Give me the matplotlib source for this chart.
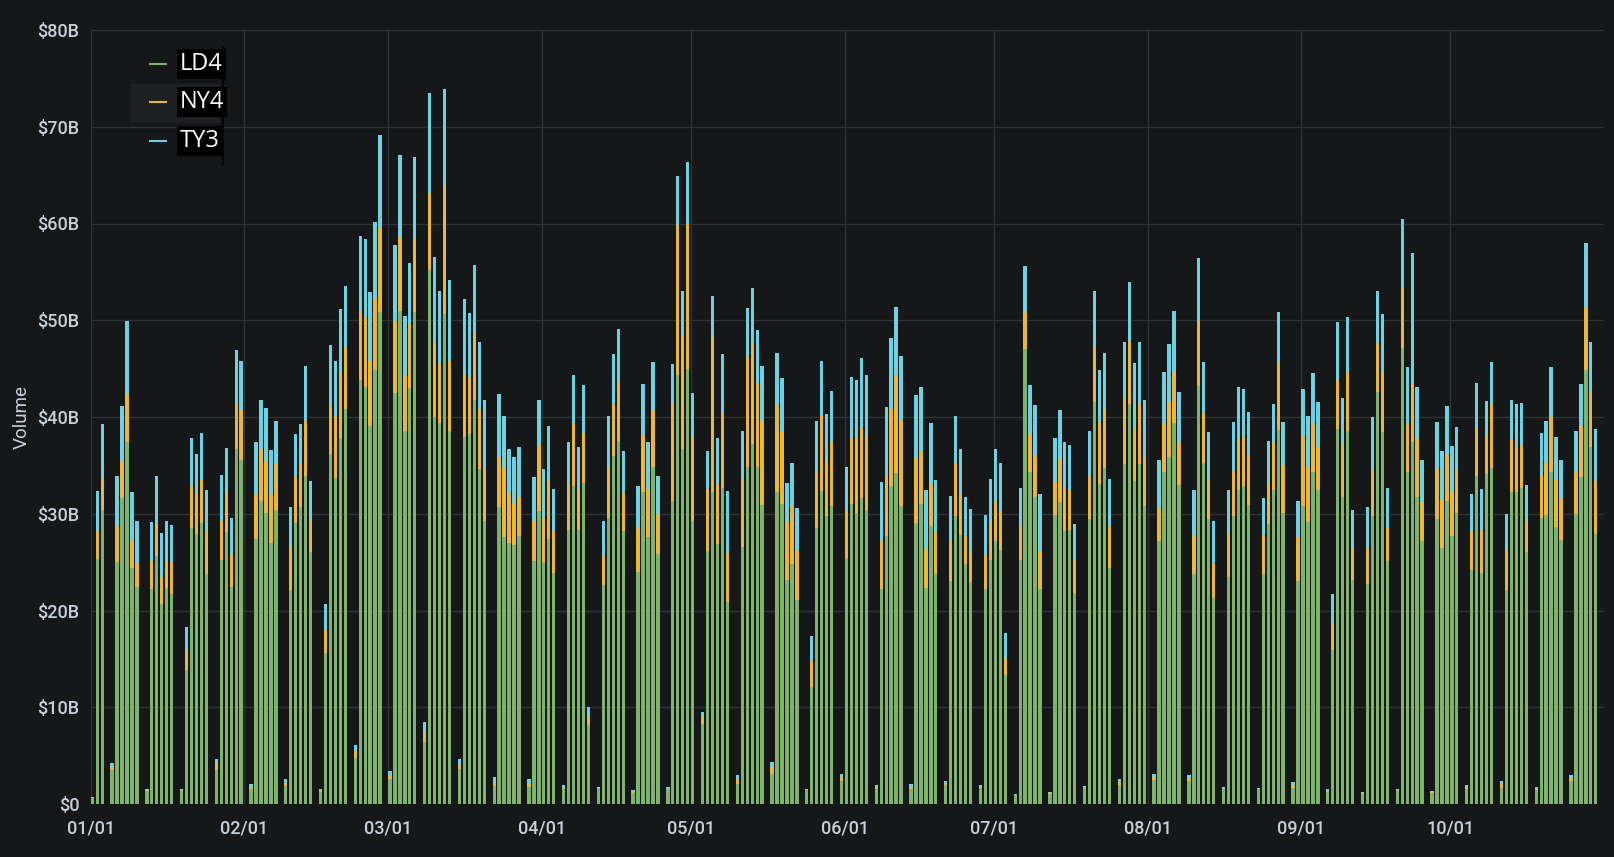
import numpy as np
import pandas as pd
import matplotlib
matplotlib.use('Agg')
import matplotlib.pyplot as plt
import matplotlib.dates as mdates
from matplotlib.ticker import FuncFormatter, MultipleLocator
from matplotlib.lines import Line2D
from matplotlib.patches import Rectangle

# daily volume in $B, 2020-01-01 .. 2020-10-31 (Saturdays are 0)
series = ['LD4', 'NY4', 'TY3']
colors = ['#7eb26d', '#eab839', '#6ed0e0']

ld4 = [
    # Jan
    0.6, 25.3, 30.4, 0, 3.5, 25.0, 31.6, 37.4, 24.4, 22.4, 0, 1.3, 22.2, 25.6, 20.7, 22.3,
    21.7, 0, 1.3, 13.8, 28.5, 27.9, 29.0, 23.8, 0, 3.5, 25.2, 28.1, 22.4, 36.7, 35.6,
    # Feb
    0, 1.6, 27.4, 31.3, 30.1, 27.0, 30.4, 0, 1.9, 22.1, 29.0, 30.7, 33.9, 26.0, 0, 1.2,
    15.6, 36.2, 33.7, 37.8, 40.8, 0, 4.8, 43.8, 43.1, 39.1, 44.9, 50.9, 0,
    # Mar
    2.6, 42.5, 51.0, 38.6, 43.0, 50.9, 0, 6.4, 55.2, 40.0, 39.4, 50.6, 38.6, 0, 3.6, 37.9,
    38.2, 41.8, 34.6, 29.2, 0, 1.9, 30.7, 27.6, 27.0, 26.8, 27.7, 0, 1.8, 25.1, 30.3,
    # Apr
    24.9, 27.4, 23.9, 0, 1.5, 28.3, 32.9, 28.3, 33.2, 8.2, 0, 1.5, 22.6, 29.6, 36.0, 37.5,
    28.2, 0, 1.1, 24.0, 32.2, 27.6, 34.8, 25.8, 0, 1.5, 31.3, 44.3, 36.7, 45.0,
    # May
    29.3, 0, 8.3, 26.1, 32.2, 26.9, 32.7, 20.9, 0, 2.1, 26.6, 34.8, 37.2, 34.8, 30.9, 0,
    3.1, 32.2, 31.0, 23.2, 24.8, 21.1, 0, 1.4, 12.1, 28.5, 32.3, 29.8, 30.8, 0, 2.4,
    # Jun
    25.4, 31.0, 30.1, 31.6, 30.4, 0, 1.6, 22.2, 27.7, 32.9, 34.2, 30.8, 0, 1.6, 29.0, 31.0,
    22.3, 28.7, 23.8, 0, 2.0, 23.0, 29.8, 27.8, 24.8, 22.9, 0, 1.7, 22.2, 25.2,
    # Jul
    27.2, 26.3, 13.3, 0, 0.9, 25.2, 47.0, 34.3, 31.7, 22.2, 0, 1.0, 29.9, 31.2, 28.2, 28.3,
    21.8, 0, 1.5, 29.5, 41.6, 33.1, 34.7, 24.4, 0, 2.0, 35.1, 41.3, 33.4, 35.1, 30.8,
    # Aug
    0, 2.5, 27.2, 34.3, 35.9, 39.4, 33.0, 0, 2.4, 23.8, 43.2, 35.2, 29.5, 21.3, 0, 1.5,
    23.5, 29.8, 32.5, 32.9, 30.9, 0, 1.5, 23.8, 28.9, 32.5, 38.7, 30.1, 0, 1.7, 23.0,
    # Sep
    30.8, 29.1, 34.3, 32.5, 0, 1.2, 15.9, 38.8, 31.7, 38.6, 23.2, 0, 1.0, 22.7, 29.8, 42.6,
    38.4, 25.1, 0, 1.3, 47.1, 34.3, 37.4, 31.7, 27.2, 0, 1.1, 29.5, 26.5, 31.3,
    # Oct
    27.7, 30.1, 0, 1.6, 24.2, 33.9, 23.9, 34.1, 34.7, 0, 1.7, 22.1, 32.2, 32.2, 32.7, 26.0,
    0, 1.4, 29.6, 29.9, 34.3, 28.6, 27.3, 0, 2.4, 30.0, 33.8, 44.9, 36.9, 27.9, 0,
]

ny4 = [
    # Jan
    0.0, 2.9, 3.3, 0, 0.3, 3.7, 3.9, 5.0, 2.8, 2.5, 0, 0.1, 2.9, 3.3, 2.8, 2.8,
    3.3, 0, 0.1, 2.1, 4.4, 4.1, 4.5, 4.4, 0, 0.7, 4.0, 4.1, 3.4, 4.7, 5.1,
    # Feb
    0, 0.2, 4.6, 5.4, 5.2, 5.0, 4.7, 0, 0.3, 4.6, 4.8, 4.4, 5.7, 3.4, 0, 0.2,
    2.4, 5.0, 6.3, 6.7, 6.4, 0, 0.7, 7.3, 7.2, 6.7, 7.3, 8.7, 0,
    # Mar
    0.4, 7.4, 7.6, 5.6, 6.7, 7.6, 0, 1.0, 8.0, 7.8, 6.1, 13.3, 7.2, 0, 0.4, 6.5,
    5.9, 6.9, 6.2, 5.5, 0, 0.3, 5.2, 7.1, 5.1, 4.2, 4.0, 0, 0.3, 4.1, 6.8,
    # Apr
    4.7, 6.0, 4.3, 0, 0.2, 4.8, 6.4, 4.2, 5.1, 0.8, 0, 0.1, 3.0, 5.2, 5.3, 6.1,
    3.9, 0, 0.1, 4.6, 5.9, 5.0, 5.9, 4.2, 0, 0.1, 10.1, 15.5, 11.7, 15.0,
    # May
    8.6, 0, 0.8, 6.5, 16.1, 6.2, 7.7, 5.0, 0, 0.5, 7.0, 11.4, 10.4, 8.7, 8.7, 0,
    0.7, 9.0, 7.4, 5.9, 6.0, 5.2, 0, 0.1, 2.7, 5.9, 7.8, 5.7, 6.6, 0, 0.4,
    # Jun
    4.9, 6.8, 7.8, 7.3, 7.7, 0, 0.2, 5.0, 6.2, 7.9, 10.1, 8.9, 0, 0.2, 6.8, 5.5,
    4.1, 4.4, 4.3, 0, 0.2, 4.2, 5.4, 4.2, 2.9, 3.1, 0, 0.1, 3.5, 3.9,
    # Jul
    4.0, 4.0, 1.8, 0, 0.0, 3.5, 3.9, 3.9, 4.3, 3.8, 0, 0.1, 3.4, 4.5, 4.6, 4.2,
    3.4, 0, 0.2, 4.4, 5.6, 6.4, 6.1, 4.3, 0, 0.3, 6.9, 6.6, 5.4, 6.2, 5.1,
    # Aug
    0, 0.3, 3.4, 5.0, 5.7, 5.3, 4.4, 0, 0.3, 3.9, 6.7, 5.2, 4.1, 3.6, 0, 0.1,
    4.5, 4.6, 5.1, 5.0, 5.1, 0, 0.1, 4.0, 4.3, 4.9, 6.9, 4.9, 0, 0.3, 4.6,
    # Sep
    7.2, 5.7, 5.0, 4.4, 0, 0.1, 2.8, 5.0, 5.5, 6.1, 3.3, 0, 0.1, 3.8, 4.7, 5.0,
    6.3, 3.4, 0, 0.1, 6.2, 5.0, 6.0, 6.1, 4.0, 0, 0.1, 5.2, 4.9, 4.9,
    # Oct
    4.5, 4.5, 0, 0.2, 4.0, 5.0, 4.4, 4.0, 6.6, 0, 0.4, 4.3, 5.5, 4.7, 4.4, 3.2,
    0, 0.2, 4.4, 5.4, 5.7, 4.9, 4.3, 0, 0.3, 4.3, 5.3, 6.5, 5.7, 5.5, 0,
]

ty3 = [
    # Jan
    0.1, 4.1, 5.6, 0, 0.4, 5.2, 5.6, 7.5, 5.0, 4.3, 0, 0.1, 4.0, 5.0, 4.5, 4.1,
    3.8, 0, 0.1, 2.4, 4.9, 4.2, 4.8, 4.3, 0, 0.5, 4.8, 4.6, 3.8, 5.5, 5.1,
    # Feb
    0, 0.3, 5.4, 5.1, 5.6, 4.6, 4.5, 0, 0.4, 4.0, 4.4, 4.2, 5.7, 4.0, 0, 0.2,
    2.7, 6.2, 5.8, 6.7, 6.3, 0, 0.6, 7.6, 8.1, 7.1, 8.0, 9.5, 0,
    # Mar
    0.4, 7.9, 8.5, 6.2, 6.2, 8.4, 0, 1.1, 10.3, 8.7, 7.5, 10.0, 8.4, 0, 0.6, 7.8,
    6.7, 7.0, 7.0, 7.1, 0, 0.6, 6.5, 5.4, 4.6, 4.9, 5.2, 0, 0.5, 4.6, 4.7,
    # Apr
    5.0, 5.7, 4.4, 0, 0.3, 4.3, 5.0, 4.4, 5.0, 1.0, 0, 0.2, 3.7, 5.3, 5.2, 5.5,
    4.4, 0, 0.2, 4.3, 5.3, 4.8, 5.0, 3.9, 0, 0.2, 4.1, 5.1, 4.6, 6.4,
    # May
    4.6, 0, 0.4, 3.9, 4.2, 4.7, 6.1, 6.4, 0, 0.4, 5.0, 5.1, 5.7, 5.5, 5.7, 0,
    0.5, 5.4, 5.6, 4.1, 4.4, 4.3, 0, 0.1, 2.6, 5.2, 5.7, 4.8, 5.3, 0, 0.3,
    # Jun
    4.5, 6.3, 5.9, 7.2, 6.2, 0, 0.2, 6.1, 7.1, 7.4, 7.1, 6.6, 0, 0.3, 6.5, 6.6,
    6.1, 6.3, 5.4, 0, 0.2, 4.6, 4.9, 4.7, 4.0, 4.5, 0, 0.2, 4.2, 4.5,
    # Jul
    5.5, 4.9, 2.6, 0, 0.1, 4.0, 4.7, 5.1, 5.2, 6.0, 0, 0.1, 4.5, 5.0, 4.6, 4.6,
    3.7, 0, 0.2, 4.7, 5.8, 5.4, 5.8, 4.9, 0, 0.3, 5.8, 6.1, 6.8, 6.5, 5.9,
    # Aug
    0, 0.3, 5.0, 5.4, 5.9, 6.3, 5.2, 0, 0.3, 4.8, 6.5, 5.3, 4.9, 4.4, 0, 0.2,
    4.5, 5.1, 5.5, 5.0, 4.5, 0, 0.1, 3.8, 4.3, 3.9, 5.3, 4.5, 0, 0.3, 3.7,
    # Sep
    4.9, 5.3, 5.2, 4.7, 0, 0.2, 3.0, 6.0, 4.8, 5.6, 3.9, 0, 0.1, 4.2, 5.5, 5.4,
    5.9, 4.2, 0, 0.1, 7.2, 5.9, 13.5, 5.3, 4.4, 0, 0.1, 4.8, 5.1, 4.9,
    # Oct
    4.8, 4.4, 0, 0.2, 3.8, 4.6, 4.3, 3.6, 4.4, 0, 0.3, 3.6, 4.1, 4.4, 4.3, 3.8,
    0, 0.2, 4.3, 4.3, 5.2, 4.4, 4.0, 0, 0.3, 4.3, 4.3, 6.6, 5.2, 5.4, 0,
]

days = pd.date_range('2020-01-01', '2020-10-31', freq='D')
ld4 = np.array(ld4)
ny4 = np.array(ny4)
ty3 = np.array(ty3)
assert len(ld4) == len(ny4) == len(ty3) == len(days)

bg = '#161719'
txt = '#c7d0d9'
grid = '#303236'

fig = plt.figure(figsize=(16.15, 8.57), dpi=100, facecolor=bg)
ax = fig.add_axes([90.6 / 1615, 53 / 857, 1513.4 / 1615, 774 / 857])
ax.set_facecolor(bg)

x = mdates.date2num(days)
w = 0.67
ax.bar(x, ld4, w, align='edge', color=colors[0], linewidth=0, zorder=3)
ax.bar(x, ny4, w, bottom=ld4, align='edge', color=colors[1], linewidth=0, zorder=3)
ax.bar(x, ty3, w, bottom=ld4 + ny4, align='edge', color=colors[2], linewidth=0, zorder=3)

ax.set_xlim(mdates.date2num(pd.Timestamp('2020-01-01')),
            mdates.date2num(pd.Timestamp('2020-10-31 23:50')))
ax.set_ylim(0, 80)
ax.yaxis.set_major_locator(MultipleLocator(10))
ax.yaxis.set_major_formatter(FuncFormatter(lambda v, p: '$0' if v == 0 else '$%dB' % v))
ax.xaxis.set_major_locator(mdates.MonthLocator(bymonth=range(1, 11)))
ax.xaxis.set_major_formatter(mdates.DateFormatter('%m/%d'))

for s in ax.spines.values():
    s.set_visible(False)
ax.grid(True, color=grid, linewidth=1, zorder=0)
ax.tick_params(length=0, colors=txt, labelsize=13)
ax.tick_params(axis='y', pad=8)
ax.tick_params(axis='x', pad=11)
for lab in ax.get_xticklabels() + ax.get_yticklabels():
    lab.set_family('Roboto')
    lab.set_fontweight('medium')
ax.set_ylabel('Volume', color=txt, fontsize=13.5, family='Roboto', labelpad=5)

# legend (Grafana style, drawn in figure pixels)
def fx(px):
    return px / 1615

def fy(py):
    return 1 - py / 857

fig.add_artist(Rectangle((fx(131), fy(123)), fx(88), 39 / 857, transform=fig.transFigure,
                         facecolor='#1f2024', edgecolor='none'))
fig.add_artist(Line2D([fx(223), fx(223)], [fy(47), fy(164)], transform=fig.transFigure,
                      color='black', linewidth=1.2))
rows_y = [64, 102, 141]
for name, c, yy in zip(series, colors, rows_y):
    fig.add_artist(Line2D([fx(150), fx(166)], [fy(yy), fy(yy)], transform=fig.transFigure,
                          color=c, linewidth=1.5))
    fig.text(fx(180), fy(yy), name, color='white', fontsize=17, family='Open Sans',
             va='center', ha='left',
             bbox=dict(facecolor='black', edgecolor='none', boxstyle='square,pad=0.12'))

fig.savefig('out.png', dpi=100, facecolor=bg)
